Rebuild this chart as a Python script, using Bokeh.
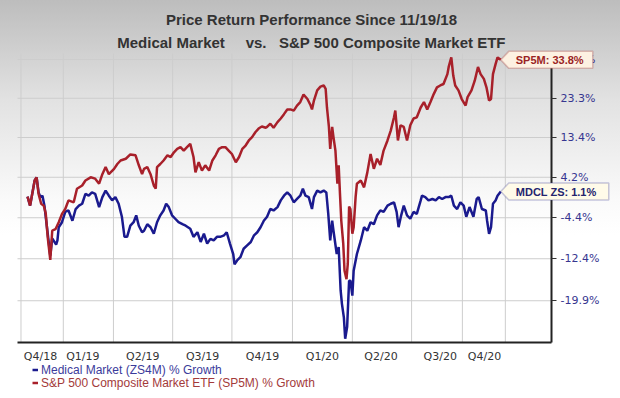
import math
import pandas as pd
from bokeh.plotting import figure
from bokeh.models import (Range1d, FixedTicker, Legend, LegendItem, Label,
                          PolyAnnotation, ColumnDataSource)
from bokeh.embed import file_html
from bokeh.resources import INLINE

# ---------------- data ----------------
start_date = "2018-11-19"

sp_days = [0, 4, 11, 14, 17, 21, 25, 28, 31, 35, 38, 43, 48, 53, 58, 63, 71, 76, 84, 89,
           97, 104, 110, 115, 120, 125, 133, 138, 143, 151, 158, 166, 171, 176, 179, 184,
           189, 194, 197, 199, 204, 209, 215, 220, 225, 230, 235, 240, 245, 250, 255, 258,
           263, 268, 273, 279, 284, 289, 294, 299, 304, 309, 314, 320, 325, 330, 335, 340,
           345, 350, 355, 360, 366, 368, 373, 378, 384, 389, 394, 399, 404, 409, 414, 419,
           424, 430, 435, 437, 440, 445, 450, 455, 458, 460, 463, 465, 468, 470, 473, 476,
           478, 480, 482, 485, 487, 490, 492, 494, 496, 499, 501, 504, 506, 512, 517, 522,
           527, 532, 537, 542, 547, 553, 558, 563, 565, 569, 573, 578, 583, 588, 593, 598,
           604, 609, 614, 619, 624, 629, 634, 639, 645, 647, 651, 654, 657, 662, 667, 673,
           676, 682, 687, 692, 696, 701, 705, 709, 712, 715, 719, 722, 727]
sp_pct = [0.0, -1.9, 3.5, 4.2, 0.6, -1.5, -1.9, -3.5, -8.2, -12.6, -7.0, -6.7, -5.3, -3.6,
          -2.6, -0.8, -1.2, 1.7, 2.4, 3.5, 4.2, 3.9, 2.8, 4.9, 6.5, 4.9, 6.1, 7.2, 8.0, 8.4,
          9.4, 9.2, 6.9, 4.9, 6.1, 6.5, 4.9, 2.4, 1.7, 6.5, 7.2, 8.0, 9.2, 8.8, 9.9, 10.7,
          11.1, 10.3, 11.1, 11.9, 8.8, 5.3, 7.6, 5.7, 6.9, 5.7, 8.0, 9.2, 10.7, 11.1, 11.1,
          10.3, 9.5, 7.6, 8.8, 10.7, 11.5, 12.7, 13.5, 14.7, 15.6, 16.1, 15.8, 16.0, 16.8,
          15.8, 17.2, 18.1, 19.2, 20.4, 20.4, 20.1, 21.4, 22.3, 24.3, 23.1, 21.4, 20.4, 22.7,
          25.4, 26.4, 26.7, 25.8, 20.9, 16.0, 10.7, 16.0, 13.5, 10.3, 2.8, 6.9, 0.6, -5.0,
          -9.5, -14.6, -16.1, -13.3, -2.1, -2.6, -7.6, -6.3, -0.1, 2.8, 3.5, 2.0, 5.3, 9.5,
          6.1, 8.4, 7.0, 10.3, 12.7, 15.1, 18.4, 20.1, 12.7, 16.4, 16.0, 12.7, 16.4, 18.1,
          18.4, 20.9, 22.3, 20.4, 22.3, 24.4, 26.2, 26.7, 27.1, 29.8, 31.8, 34.5, 29.4, 26.7,
          25.4, 23.1, 21.4, 23.6, 25.4, 28.0, 31.8, 29.8, 28.5, 26.2, 22.7, 23.1, 29.8, 32.6,
          34.5, 33.8]

zs_days = [0, 4, 11, 14, 17, 20, 23, 26, 31, 35, 38, 44, 46, 48, 53, 58, 63, 69, 74, 79,
           84, 89, 94, 99, 104, 110, 115, 120, 125, 130, 135, 140, 145, 149, 153, 158, 163,
           167, 171, 176, 179, 184, 189, 194, 199, 204, 209, 213, 217, 222, 227, 232, 238,
           243, 250, 255, 261, 266, 271, 276, 281, 286, 291, 296, 302, 306, 311, 316, 318,
           322, 327, 332, 337, 343, 348, 353, 358, 363, 368, 373, 378, 384, 389, 394, 399,
           404, 409, 414, 419, 423, 427, 432, 437, 440, 445, 450, 455, 459, 462, 465, 468,
           470, 475, 478, 481, 483, 486, 488, 491, 494, 496, 499, 501, 506, 512, 517, 522,
           527, 532, 537, 542, 547, 553, 558, 563, 567, 570, 574, 578, 583, 588, 593, 598,
           604, 606, 611, 616, 622, 627, 632, 637, 642, 647, 651, 655, 660, 665, 670, 674,
           679, 685, 690, 693, 698, 704, 706, 709, 712, 715, 719, 722, 727]
zs_pct = [0.0, -1.9, 3.5, 4.2, 0.9, -0.1, 0.2, -1.9, -7.5, -11.8, -8.5, -9.7, -8.9, -6.3,
          -5.3, -3.2, -2.9, -5.0, -2.6, -1.9, -1.5, 0.6, 0.2, 0.9, 0.6, -2.2, -0.1, 1.3, 0.2,
          -0.8, -0.1, -1.5, -4.2, -8.2, -8.2, -6.0, -5.3, -3.9, -6.0, -7.3, -7.0, -5.7, -6.3,
          -7.6, -5.3, -3.9, -2.9, -1.5, -2.2, -3.9, -4.6, -5.3, -5.7, -6.0, -6.6, -8.2, -7.3,
          -9.2, -7.6, -9.5, -8.6, -8.9, -8.2, -8.2, -7.9, -7.3, -9.5, -11.5, -13.4, -12.7,
          -12.1, -10.5, -9.9, -9.2, -7.9, -7.3, -6.3, -5.0, -4.2, -2.6, -2.9, -2.2, -0.8,
          0.2, 0.9, 0.2, -1.2, -0.5, 0.2, 1.7, 0.2, -0.1, -2.6, -0.1, 1.3, 0.9, 1.3, 0.9,
          -3.6, -8.9, -5.0, -7.0, -11.5, -10.2, -18.1, -20.4, -22.7, -26.1, -24.2, -16.4,
          -16.4, -19.0, -14.6, -11.5, -8.9, -6.3, -7.0, -5.3, -5.7, -3.9, -2.9, -3.2, -1.9,
          -1.5, -1.2, -3.2, -6.3, -3.9, -1.9, -3.9, -4.6, -3.2, -3.6, -0.8, 0.2, -0.1, -0.8,
          -0.5, -0.8, -0.1, -0.5, -0.1, -0.1, 0.2, -1.9, -2.6, -1.2, -1.9, -4.2, -2.2, -4.2,
          -0.5, -0.1, -2.6, -2.9, -5.0, -7.6, -6.3, -1.5, -0.8, 0.2, 1.1]

quarter_labels = ["Q4/18", "Q1/19", "Q2/19", "Q3/19", "Q4/19", "Q1/20", "Q2/20", "Q3/20", "Q4/20"]
quarter_label_dates = ["2018-12-09", "2019-02-12", "2019-05-15", "2019-08-15", "2019-11-15",
                       "2020-02-15", "2020-05-15", "2020-08-14", "2020-10-21"]
grid_dates = ["2018-11-09", "2019-01-13", "2019-03-31", "2019-06-30", "2019-09-29",
              "2019-12-31", "2020-04-01", "2020-07-01", "2020-09-17", "2020-11-22"]
y_tick_pct = [33.9, 23.3, 13.4, 4.2, -4.4, -12.4, -19.9]

title_1 = "Price Return Performance Since 11/19/18"
title_2 = "Medical Market\u00a0\u00a0\u00a0\u00a0\u00a0vs.\u00a0\u00a0\u00a0S&P 500 Composite Market ETF"
sp_name = "S&P 500 Composite Market ETF (SP5M) % Growth"
zs_name = "Medical Market (ZS4M) % Growth"
sp_tag = "SP5M: 33.8%"
zs_tag = "MDCL ZS: 1.1%"

# ---------------- build ----------------
t0 = pd.Timestamp(start_date)


def ms(ts):
    return pd.Timestamp(ts).value / 1e6


def day_ms(d):
    return ms(t0 + pd.Timedelta(days=d))


sp_src = ColumnDataSource(dict(x=[t0 + pd.Timedelta(days=d) for d in sp_days],
                               y=[1 + v / 100 for v in sp_pct]))
zs_src = ColumnDataSource(dict(x=[t0 + pd.Timedelta(days=d) for d in zs_days],
                               y=[1 + v / 100 for v in zs_pct]))

W, H = 620, 398
# the whole canvas is the frame; the plot box inside it is set by the axes' bounds
x_lo, x_hi = day_ms(-41.47), day_ms(910.9)         # canvas edges
x_left, x_right = day_ms(-15.36), day_ms(804.9)    # plot box
y_lo, y_hi = 0.65068, 1.51826                      # canvas edges
y_bot, y_top = 0.73229, 1.35626                    # plot box

p = figure(width=W, height=H, min_border=0,
           x_axis_type="datetime", y_axis_type="log", y_axis_location="right",
           x_range=Range1d(x_lo, x_hi), y_range=Range1d(y_lo, y_hi),
           output_backend="svg", toolbar_location=None, title=None)
p.min_border_left = p.min_border_right = p.min_border_top = p.min_border_bottom = 0

p.background_fill_alpha = 0
p.border_fill_alpha = 0
p.outline_line_color = None
p.styles = {"background": "linear-gradient(180deg, #bdbdbd 0px, #e2e2e2 100px, #fafafa 200px, #ffffff 235px)"}

xa = p.xaxis[0]
xa.fixed_location = y_bot
xa.bounds = (x_left, x_right)
xa.ticker = FixedTicker(ticks=[ms(d) for d in quarter_label_dates])
xa.major_label_overrides = {ms(d): lab for d, lab in zip(quarter_label_dates, quarter_labels)}
xa.major_tick_line_color = None
xa.major_tick_out = 0
xa.major_tick_in = 0
xa.minor_tick_line_color = None
xa.axis_line_color = "#222222"
xa.axis_line_width = 2
xa.major_label_standoff = 7
xa.major_label_text_font = "DejaVu Sans"
xa.major_label_text_font_size = "11px"
xa.major_label_text_color = "#333333"

ya = p.yaxis[0]
ya.fixed_location = x_right
ya.bounds = (y_bot, y_top)
ya.ticker = FixedTicker(ticks=[1 + v / 100 for v in y_tick_pct])
ya.major_label_overrides = {1 + v / 100: f"{v:.1f}%" for v in y_tick_pct}
ya.major_tick_out = 5
ya.major_tick_in = 0
ya.major_tick_line_color = "#333333"
ya.minor_tick_line_color = None
ya.axis_line_color = "#222222"
ya.axis_line_width = 2
ya.major_label_standoff = 4
ya.major_label_text_font = "DejaVu Sans"
ya.major_label_text_font_size = "11px"
ya.major_label_text_color = "#363690"

p.xgrid.visible = False
p.ygrid.visible = False

blue = "#1a1a8e"
red = "#a8202a"
r_zs = p.line("x", "y", source=zs_src, line_color=blue, line_width=2.5)
r_sp = p.line("x", "y", source=sp_src, line_color=red, line_width=2.5)

# ---- title (two lines); screen units measured from the canvas bottom-left ----
for txt, ys in ((title_1, 379), (title_2, 356.3)):
    p.add_layout(Label(x=311, y=ys, x_units="screen", y_units="screen", text=txt,
                       text_align="center", text_baseline="middle",
                       text_font="Liberation Sans", text_font_style="bold",
                       text_font_size="15px", text_color="#333333"))

# ---- pixel conversions for the data space ----
px_per_day = W / ((x_hi - x_lo) / 86400000.0)
px_per_ln = H / (math.log(y_hi) - math.log(y_lo))


def xoff(x_ms, px):
    return x_ms + px / px_per_day * 86400000.0


def yoff(y, px_up):
    return y * math.exp(px_up / px_per_ln)


# ---- callout tags at the series ends ----
def tag(src, text, width, fill, border, tcolor):
    xe = ms(src.data["x"][-1])
    ye = src.data["y"][-1]
    h = 8.5
    xs = [xe, xoff(xe, 8), xoff(xe, width), xoff(xe, width), xoff(xe, 8)]
    ys = [ye, yoff(ye, h), yoff(ye, h), yoff(ye, -h), yoff(ye, -h)]
    p.add_layout(PolyAnnotation(xs=xs, ys=ys, fill_color=fill, fill_alpha=1,
                                line_color=border, line_width=1.5))
    p.add_layout(Label(x=xe, y=ye, x_offset=15, text=text, text_align="left",
                       text_baseline="middle", text_font="Liberation Sans",
                       text_font_style="bold", text_font_size="11px", text_color=tcolor))


tag(sp_src, sp_tag, 92, "#fdf1e2", "#a33a3a", "#9a2424")
tag(zs_src, zs_tag, 108, "#fffbe9", "#4a4a9a", "#24246e")

# ---- legends (one per series so each gets its own colour) ----
for i, (r, name, col) in enumerate([(r_zs, zs_name, "#3b3b9b"), (r_sp, sp_name, "#a33a3a")]):
    leg = Legend(items=[LegendItem(label=name, renderers=[r])],
                 location=(32, 21.5 - 13 * i), orientation="vertical",
                 glyph_width=6, glyph_height=13, label_height=13, label_standoff=3,
                 padding=0, margin=0, spacing=0,
                 border_line_color=None, background_fill_alpha=0,
                 label_text_font="Liberation Sans", label_text_font_size="12px",
                 label_text_color=col)
    p.add_layout(leg)

# ---- grid lines: thin filled strips limited to the plot box, placed from the tick lists ----
grid_fill = "#cdcdcd"
xg_ticks = [ms(d) for d in grid_dates]
yg_ticks = [1 + v / 100 for v in y_tick_pct]
for gx in xg_ticks:
    a, b = xoff(gx, -0.5), xoff(gx, 0.5)
    p.add_layout(PolyAnnotation(xs=[a, b, b, a], ys=[y_bot, y_bot, y_top, y_top],
                                fill_color=grid_fill, fill_alpha=1, line_color=None,
                                level="underlay"))
for gy in yg_ticks:
    a, b = yoff(gy, -0.5), yoff(gy, 0.5)
    p.add_layout(PolyAnnotation(xs=[x_left, x_right, x_right, x_left], ys=[a, a, b, b],
                                fill_color=grid_fill, fill_alpha=1, line_color=None,
                                level="underlay"))

open("out.html", "w").write(file_html(p, INLINE))
